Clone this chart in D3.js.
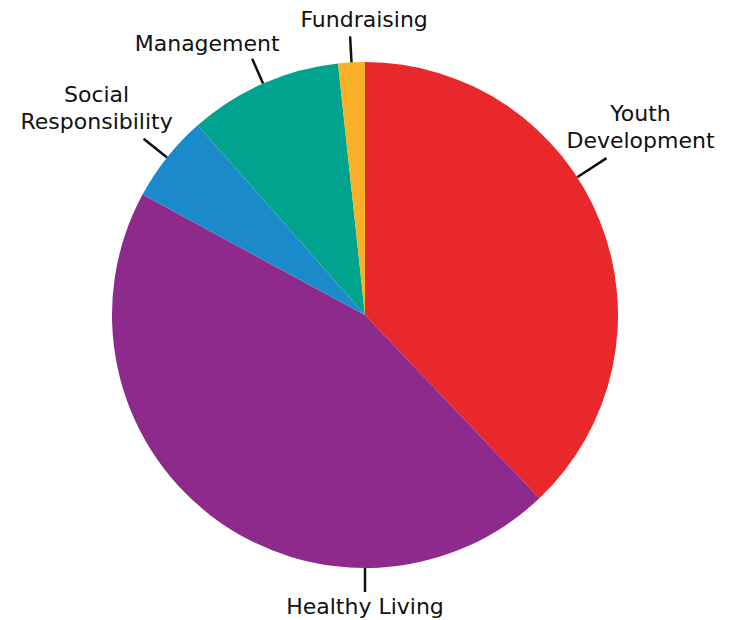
<!DOCTYPE html>
<html>
<head>
<meta charset="utf-8">
<script src="https://cdn.jsdelivr.net/npm/d3@7"></script>
<style>
  body { margin: 0; background: #fff; }
  text { font-family: "DejaVu Sans", sans-serif; font-size: 22px; fill: #111; }
</style>
</head>
<body>
<div id="chart"></div>
<script>
const width = 729, height = 620;

// data (percent of total)
const categories = ["Youth Development", "Healthy Living", "Social Responsibility", "Management", "Fundraising"];
const values = [37.9, 45.0, 5.6, 9.8, 1.7];
const colors = ["#e9282c", "#8e2a8b", "#1b8acb", "#00a38e", "#fbb02a"];
const labelLines = [["Youth", "Development"], ["Healthy Living"], ["Social", "Responsibility"], ["Management"], ["Fundraising"]];

// label placement: leader angle (deg, null = mid slice), leader length, text offset from leader end
const labelLayout = [
    {angle: 57, len: 35, dx: 34, dy: -37},
    {angle: 180, len: 24, dx: 0, dy: 22},
    {angle: null, len: 30, dx: -47, dy: -37},
    {angle: null, len: 27, dx: -45, dy: -8},
    {angle: null, len: 26, dx: 14, dy: -9}
];

const cx = 365, cy = 315, r = 253;

const svg = d3.select("#chart").append("svg")
    .attr("width", width)
    .attr("height", height);

const g = svg.append("g").attr("transform", `translate(${cx},${cy})`);

const pie = d3.pie().sort(null).value(d => d)(values);
const arc = d3.arc().innerRadius(0).outerRadius(r);

g.selectAll("path")
    .data(pie)
    .join("path")
    .attr("d", arc)
    .attr("fill", (d, i) => colors[i]);

const rad = Math.PI / 180;
const labels = g.selectAll(".label")
    .data(pie)
    .join("g")
    .attr("class", "label");

labels.each(function(d, i) {
    const lay = labelLayout[i];
    const a = lay.angle == null ? (d.startAngle + d.endAngle) / 2 : lay.angle * rad;
    const x0 = Math.sin(a) * r, y0 = -Math.cos(a) * r;
    const x1 = Math.sin(a) * (r + lay.len), y1 = -Math.cos(a) * (r + lay.len);
    const sel = d3.select(this);
    sel.append("line")
        .attr("x1", x0).attr("y1", y0)
        .attr("x2", x1).attr("y2", y1)
        .attr("stroke", "#111")
        .attr("stroke-width", 2.5);
    const lines = labelLines[i];
    const t = sel.append("text")
        .attr("text-anchor", "middle")
        .attr("x", x1 + lay.dx)
        .attr("y", y1 + lay.dy);
    lines.forEach((s, k) => {
        t.append("tspan")
            .attr("x", x1 + lay.dx)
            .attr("dy", k === 0 ? 0 : 27)
            .text(s);
    });
});
</script>
</body>
</html>
